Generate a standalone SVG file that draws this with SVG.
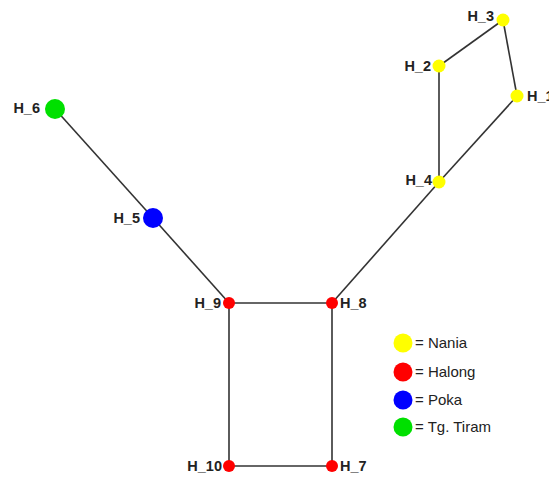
<svg xmlns="http://www.w3.org/2000/svg" width="549" height="477" viewBox="0 0 549 477">
<style>
.e{stroke:#333;stroke-width:1.6;fill:none}
.l{font-family:"Liberation Sans",Arial,sans-serif;font-size:14.5px;font-weight:bold;fill:#222}
.r{text-anchor:end}
.g{font-family:"Liberation Sans",Arial,sans-serif;font-size:15px;fill:#222}
.y{fill:#ffff00}.d{fill:#ff0000}.b{fill:#0000ff}.n{fill:#00e000}
</style>
<rect width="549" height="477" fill="#fff"/>
<g id="edges">
<line class="e" x1="503" y1="20" x2="439" y2="66"/>
<line class="e" x1="503" y1="20" x2="517" y2="96"/>
<line class="e" x1="439" y1="66" x2="439" y2="182"/>
<line class="e" x1="517" y1="96" x2="439" y2="182"/>
<line class="e" x1="439" y1="182" x2="332" y2="303"/>
<line class="e" x1="55" y1="109" x2="153" y2="218"/>
<line class="e" x1="153" y1="218" x2="229" y2="303"/>
<line class="e" x1="229" y1="303" x2="332" y2="303"/>
<line class="e" x1="229" y1="303" x2="229" y2="466"/>
<line class="e" x1="332" y1="303" x2="332" y2="466"/>
<line class="e" x1="229" y1="466" x2="332" y2="466"/>
</g>
<g id="H_1"><circle class="y" cx="517" cy="96" r="6.5"/><text class="l" x="527" y="101">H_1</text></g>
<g id="H_2"><circle class="y" cx="439" cy="66" r="6.5"/><text class="l r" x="431" y="71">H_2</text></g>
<g id="H_3"><circle class="y" cx="503" cy="20" r="6.5"/><text class="l r" x="494" y="21">H_3</text></g>
<g id="H_4"><circle class="y" cx="439" cy="182" r="6.5"/><text class="l r" x="432" y="185">H_4</text></g>
<g id="H_5"><circle class="b" cx="153" cy="218" r="10"/><text class="l r" x="140" y="223">H_5</text></g>
<g id="H_6"><circle class="n" cx="55" cy="109" r="10"/><text class="l r" x="40" y="113">H_6</text></g>
<g id="H_7"><circle class="d" cx="332" cy="466" r="6"/><text class="l" x="340" y="471">H_7</text></g>
<g id="H_8"><circle class="d" cx="332" cy="303" r="6"/><text class="l" x="340" y="308">H_8</text></g>
<g id="H_9"><circle class="d" cx="229" cy="303" r="6"/><text class="l r" x="221" y="308">H_9</text></g>
<g id="H_10"><circle class="d" cx="229" cy="466" r="6"/><text class="l r" x="222" y="471">H_10</text></g>
<g id="legend">
<circle class="y" cx="403" cy="343" r="9.5"/><text class="g" x="415" y="348">= Nania</text>
<circle class="d" cx="403" cy="372" r="9.5"/><text class="g" x="415" y="377">= Halong</text>
<circle class="b" cx="403" cy="400" r="9.5"/><text class="g" x="415" y="405">= Poka</text>
<circle class="n" cx="403" cy="427" r="9.5"/><text class="g" x="415" y="432">= Tg. Tiram</text>
</g>
</svg>
